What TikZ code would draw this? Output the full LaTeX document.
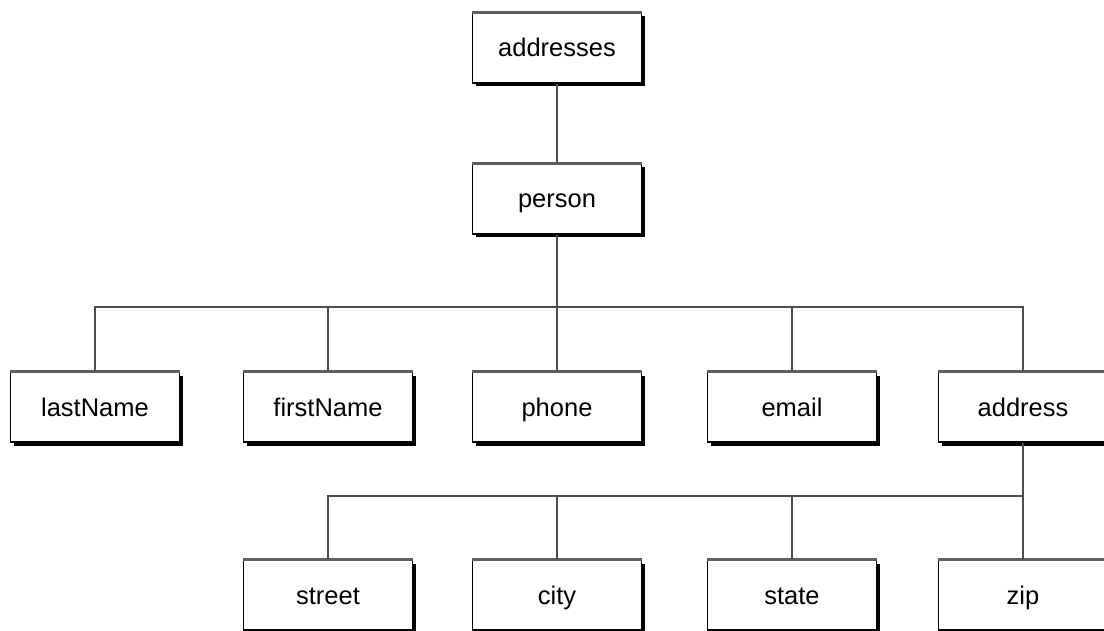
\documentclass[tikz,border=0pt]{standalone}
\usepackage{fontspec}
\setmainfont{Liberation Sans}
\usetikzlibrary{shadows}
\begin{document}
\begin{tikzpicture}[x=1pt,y=-1pt,
  box/.style={draw=black, line width=1.4pt, fill=white, minimum width=169pt, minimum height=70pt,
    inner sep=0pt, font=\fontsize{25.5}{30}\selectfont, text height=18pt, text depth=0pt,
    drop shadow={shadow xshift=3.5pt, shadow yshift=-3.5pt, opacity=1, fill=black}},
  topedge/.style={draw=gray!75!black, line width=2.8pt},
  link/.style={draw=black!70, line width=2.2pt}]
\useasboundingbox (0,0) rectangle (1104,631);
% junction points of the two horizontal bars
\coordinate (bar1) at (557,307);
\coordinate (bar2) at (1022,496);
\node[box] (addresses) at (557,48) {addresses};
\node[box] (person) at (557,199) {person};
\node[box] (lastName) at (95,407) {lastName};
\node[box] (firstName) at (328,407) {firstName};
\node[box] (phone) at (557,407) {phone};
\node[box] (email) at (792,407) {email};
\node[box] (address) at (1023,407) {address};
\node[box] (street) at (328,595) {street};
\node[box] (city) at (557,595) {city};
\node[box] (state) at (792,595) {state};
\node[box] (zip) at (1023,595) {zip};
% grey top edge of each box
\foreach \n in {addresses,person,lastName,firstName,phone,email,address,street,city,state,zip}
  \draw[topedge] (\n.north west) -- (\n.north east);
% tree links
\draw[link] (addresses.south) -- (person.north);
\draw[link] (person.south) -- (bar1);
\draw[link] (lastName.north) |- (bar1) -| (address.north);
\draw[link] (firstName.north) -- (firstName.north |- bar1);
\draw[link] (phone.north) -- (bar1);
\draw[link] (email.north) -- (email.north |- bar1);
\draw[link] (address.south) -- (zip.north);
\draw[link] (street.north) |- (bar2);
\draw[link] (city.north) -- (city.north |- bar2);
\draw[link] (state.north) -- (state.north |- bar2);
\end{tikzpicture}
\end{document}
